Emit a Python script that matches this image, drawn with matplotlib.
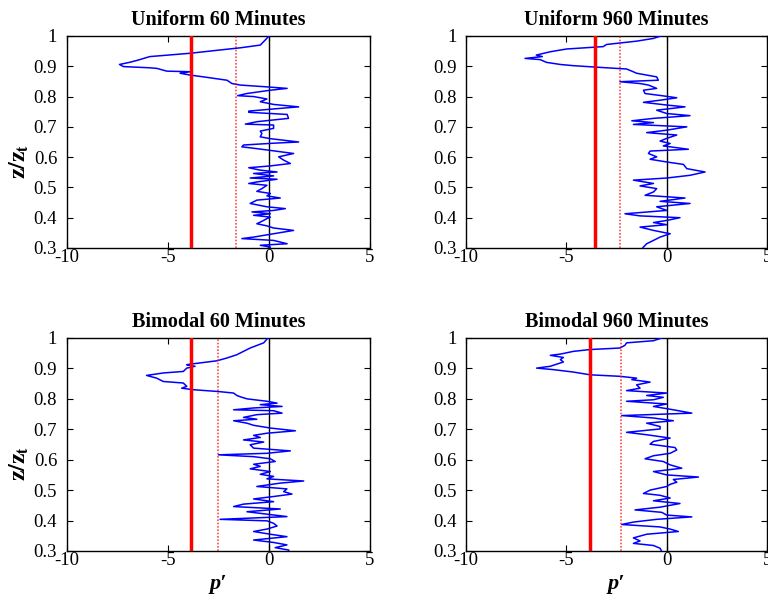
import matplotlib
matplotlib.use('Agg')
import matplotlib.pyplot as plt

plt.rcParams['font.family'] = 'Liberation Serif'
plt.rcParams['mathtext.fontset'] = 'stix'

titles = ['Uniform 60 Minutes', 'Uniform 960 Minutes',
          'Bimodal 60 Minutes', 'Bimodal 960 Minutes']

# p' profiles (x = p', z = z/zt)
p_uni60 = [0, -0.18, -0.43, -1.42, -2.4, -3.9, -5.9, -6.2, -6.5, -6.9, -7.4, -7.2, -5.9, -5.55,
           -5.06, -3.9, -4.4, -3.9, -3.24, -2.08, -1.83, -1.42, -0.1, 0.9, 0.07, -1.1, -1.55, -0.76,
           -0.1, -0.43, 0.23, 1.47, 0.56, -1.0, -1.0, 0.9, 0.97, -0.6, -1.17, 0.23, 0.23, -0.43,
           -0.35, -0.43, 0.07, 1.47, 0.23, -1.26, -1.34, -0.6, -0.02, 1.22, 0.48, 0.73, 1.06, 0.07,
           -1.0, -0.43, 0.4, -0.76, 0.23, -0.93, 0.4, -0.6, -1.0, -0.1, -0.35, -0.6, 0.07, -0.1,
           0.56, -0.6, -0.93, -0.1, 0.81, 0.23, -0.84, 0.07, -0.76, 0.07, -0.1, -0.35, -0.6, -0.1,
           0.23, 1.22, 0.23, -0.76, -1.34, 0.23, 0.9, -0.43, 0.07, -0.1]
z_uni60 = [1.0, 0.987, 0.97, 0.961, 0.954, 0.943, 0.932, 0.926, 0.92, 0.913, 0.906, 0.899, 0.895,
           0.893, 0.884, 0.882, 0.877, 0.871, 0.865, 0.854, 0.843, 0.838, 0.832, 0.827, 0.821, 0.81,
           0.803, 0.8, 0.792, 0.783, 0.774, 0.766, 0.761, 0.752, 0.748, 0.741, 0.728, 0.717, 0.709,
           0.706, 0.695, 0.686, 0.678, 0.667, 0.661, 0.65, 0.646, 0.64, 0.634, 0.628, 0.623, 0.612,
           0.601, 0.59, 0.579, 0.571, 0.565, 0.557, 0.551, 0.546, 0.538, 0.531, 0.527, 0.518, 0.513,
           0.507, 0.496, 0.487, 0.48, 0.472, 0.465, 0.458, 0.447, 0.436, 0.43, 0.424, 0.419, 0.413,
           0.408, 0.402, 0.397, 0.388, 0.38, 0.373, 0.366, 0.358, 0.347, 0.336, 0.331, 0.325, 0.314,
           0.309, 0.303, 0.296]

p_uni960 = [-0.3, -0.66, -1.5, -3.0, -3.16, -5.0, -5.8, -6.5, -6.2, -7.06, -6.3, -6.0, -5.3, -4.65,
            -3.0, -2.0, -1.74, -1.5, -1.0, -0.5, -0.42, -2.33, -1.33, -0.91, -0.5, -1.16, -1.08,
            -0.25, 0.5, -0.33, -1.16, 0.0, 0.91, -0.5, 0.0, 1.16, -0.66, -1.74, -0.66, -1.66, 1.0,
            0.0, -1.0, 0.5, 0.0, -0.33, 0.17, -0.17, 1.08, -0.83, -0.91, -0.5, -0.83, 0.0, 0.83,
            1.0, 1.91, 1.16, 0.0, -1.66, -0.66, -1.33, -0.5, -0.66, -1.08, 0.91, -0.33, 1.16, -0.5,
            0.0, -2.08, -1.33, 0.66, 0.0, -0.66, 0.0, -1.33, -0.66, 0.17, -0.33, -0.66, -1.0, -1.16,
            -1.25]
z_uni960 = [1.0, 0.992, 0.983, 0.972, 0.965, 0.957, 0.948, 0.937, 0.932, 0.926, 0.922, 0.913,
            0.906, 0.902, 0.895, 0.891, 0.884, 0.877, 0.871, 0.865, 0.854, 0.849, 0.843, 0.838,
            0.827, 0.821, 0.81, 0.803, 0.796, 0.788, 0.781, 0.772, 0.766, 0.755, 0.744, 0.737,
            0.728, 0.72, 0.714, 0.708, 0.7, 0.689, 0.681, 0.673, 0.662, 0.653, 0.645, 0.637, 0.626,
            0.62, 0.612, 0.601, 0.593, 0.584, 0.576, 0.562, 0.551, 0.54, 0.531, 0.524, 0.513,
            0.505, 0.496, 0.485, 0.474, 0.465, 0.454, 0.447, 0.436, 0.424, 0.413, 0.406, 0.4, 0.391,
            0.384, 0.377, 0.369, 0.358, 0.347, 0.336, 0.325, 0.314, 0.303, 0.296]

p_bi60 = [-0.05, -0.26, -0.93, -1.26, -1.59, -2.09, -2.58, -3.41, -3.91, -4.07, -3.66, -4.07,
          -4.24, -5.23, -6.06, -5.56, -5.23, -4.24, -4.07, -4.32, -3.74, -2.5, -1.75, -1.59, -1.34,
          -1.09, -0.1, 0.4, -0.43, 0.65, -0.76, -1.75, 0.23, 0.65, -0.6, -1.26, -0.6, -1.75, -1.09,
          -0.76, 0.07, 1.31, -0.1, -0.76, -0.43, -1.26, -0.26, -0.93, -0.76, 1.06, -0.1, -2.5,
          -0.76, 0.07, 0.31, -0.76, -0.43, -0.93, 0.07, -0.43, 0.23, -0.1, 1.72, 0.56, -0.6, 0.89,
          0.73, 1.14, 0.23, -0.76, 0.23, -1.26, -1.75, 0.56, -1.09, -0.1, 0.89, -2.42, -0.1, 0.23,
          0.4, -0.1, -0.76, 0.07, 0.89, -0.76, 0.23, 0.89, 0.31, 0.98, 0.98]
z_bi60 = [1.0, 0.984, 0.967, 0.956, 0.945, 0.934, 0.925, 0.918, 0.914, 0.912, 0.907, 0.901, 0.89,
          0.885, 0.877, 0.868, 0.857, 0.852, 0.841, 0.835, 0.83, 0.824, 0.819, 0.811, 0.805, 0.8,
          0.792, 0.786, 0.781, 0.775, 0.77, 0.764, 0.761, 0.753, 0.748, 0.739, 0.733, 0.728, 0.72,
          0.713, 0.704, 0.695, 0.687, 0.68, 0.673, 0.665, 0.658, 0.649, 0.638, 0.629, 0.621, 0.616,
          0.61, 0.603, 0.594, 0.585, 0.578, 0.57, 0.561, 0.552, 0.545, 0.537, 0.53, 0.523, 0.512,
          0.504, 0.495, 0.487, 0.479, 0.471, 0.462, 0.454, 0.446, 0.438, 0.429, 0.421, 0.413,
          0.404, 0.399, 0.391, 0.382, 0.372, 0.364, 0.355, 0.347, 0.336, 0.328, 0.32, 0.311, 0.303,
          0.298]

p_bi960 = [-0.25, -0.66, -2.0, -2.08, -2.33, -3.82, -4.65, -5.3, -5.8, -5.15, -5.3, -5.15, -5.48,
           -5.8, -6.48, -5.65, -4.65, -3.82, -2.33, -1.5, -1.74, -0.83, -1.5, -1.33, -2.0, 0.0,
           -1.0, -0.17, -0.66, -2.0, 0.0, -0.66, 0.33, 1.25, -2.24, -0.66, 0.33, -1.0, -0.33,
           -0.33, -2.0, -1.0, 0.17, -0.66, -0.83, 0.41, 0.5, 0.17, -0.66, -1.08, -0.17, 0.17, 0.75,
           -0.66, 0.0, 1.58, 0.33, 0.5, 0.17, 0.0, -0.83, -1.16, -0.33, 0.17, -0.66, 0.66, -0.33,
           -1.58, -0.25, 0.0, 1.25, -0.5, -1.66, -2.24, -0.33, 0.17, 0.58, -1.0, -1.66, -1.33,
           -1.66, -0.66, -0.33, -0.25]
z_bi960 = [1.0, 0.991, 0.984, 0.976, 0.967, 0.962, 0.956, 0.947, 0.943, 0.936, 0.929, 0.921,
           0.914, 0.907, 0.901, 0.896, 0.888, 0.879, 0.874, 0.868, 0.863, 0.855, 0.846, 0.835,
           0.827, 0.819, 0.811, 0.805, 0.797, 0.792, 0.783, 0.775, 0.764, 0.753, 0.745, 0.737,
           0.728, 0.72, 0.709, 0.701, 0.69, 0.682, 0.671, 0.66, 0.651, 0.64, 0.632, 0.621, 0.613,
           0.603, 0.594, 0.583, 0.572, 0.561, 0.55, 0.543, 0.535, 0.526, 0.519, 0.512, 0.5, 0.489,
           0.483, 0.474, 0.465, 0.456, 0.444, 0.435, 0.427, 0.418, 0.412, 0.404, 0.395, 0.387,
           0.379, 0.372, 0.364, 0.355, 0.343, 0.333, 0.325, 0.318, 0.309, 0.298]

profiles_p = [p_uni60, p_uni960, p_bi60, p_bi960]
profiles_z = [z_uni60, z_uni960, z_bi60, z_bi960]
mean_p = [-3.84, -3.57, -3.87, -3.82]      # thick red line
dotted_p = [-1.61, -2.33, -2.5, -2.3]      # dotted red line

xticks = [-10, -5, 0, 5]
yticks = [0.3, 0.4, 0.5, 0.6, 0.7, 0.8, 0.9, 1.0]
yticklabels = ['0.3', '0.4', '0.5', '0.6', '0.7', '0.8', '0.9', '1']

fig = plt.figure(figsize=(7.68, 6), dpi=100)
boxes = [[0.0872, 0.5867, 0.3945, 0.3533],
         [0.6068, 0.5867, 0.3920, 0.3533],
         [0.0872, 0.0817, 0.3945, 0.3550],
         [0.6068, 0.0817, 0.3920, 0.3550]]

for i in range(4):
    ax = fig.add_axes(boxes[i])
    ax.plot(profiles_p[i], profiles_z[i], color='blue', lw=1.1, zorder=3)
    ax.axvline(0, color='black', lw=1.0, zorder=2)
    ax.axvline(mean_p[i], color='red', lw=2.5, zorder=4)
    ax.axvline(dotted_p[i], color='red', lw=1.2, ls=(0, (1, 1)), alpha=0.7, zorder=4)
    ax.set_xlim(-10, 5)
    ax.set_ylim(0.3, 1)
    ax.set_xticks(xticks)
    ax.set_xticklabels([str(t) for t in xticks])
    ax.set_yticks(yticks)
    ax.set_yticklabels(yticklabels)
    ax.tick_params(direction='in', top=True, right=True, labelsize=13.5, length=4)
    ax.tick_params(axis='x', pad=1)
    ax.tick_params(axis='y', pad=7)
    for s in ax.spines.values():
        s.set_linewidth(1.0)
    ax.set_title(titles[i], fontsize=14.5, fontweight='bold', pad=8)
    if i % 2 == 0:
        ax.set_ylabel(r'$\mathbf{z/z_t}$', fontsize=17)
        ax.yaxis.set_label_coords(-0.12, 0.41)
    if i >= 2:
        ax.set_xlabel("p\u2032", fontsize=16, fontweight='bold', fontstyle='italic', labelpad=3)

fig.savefig('out.png', dpi=100)
